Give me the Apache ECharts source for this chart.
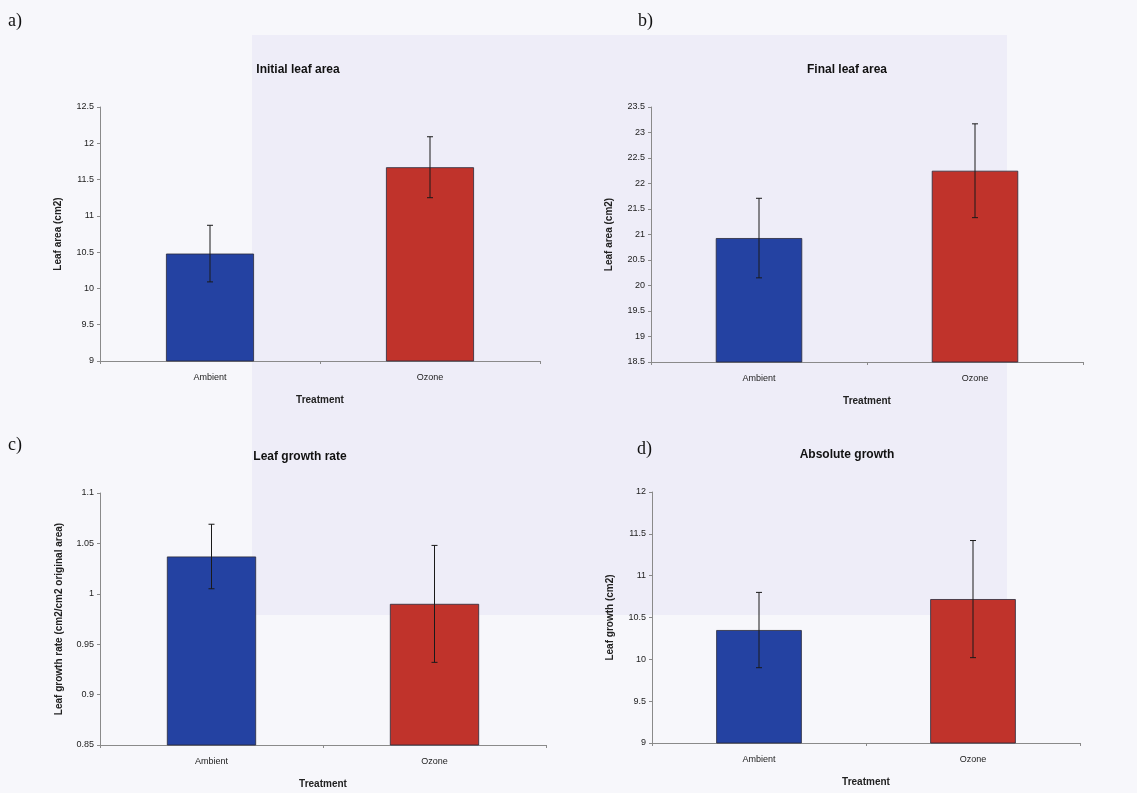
<!DOCTYPE html>
<html>
<head>
<meta charset="utf-8">
<script src="https://cdn.jsdelivr.net/npm/echarts@6/dist/echarts.min.js"></script>
<style>
html,body{margin:0;padding:0;background:#f7f7fb;}
#chart{width:1137px;height:793px;}
</style>
</head>
<body>
<div id="chart"></div>
<script>
// ---- data ----
const categories = ['Ambient', 'Ozone'];
const initialArea = [10.48, 11.67];
const initialErr = [0.39, 0.42];
const finalArea = [20.93, 22.25];
const finalErr = [0.78, 0.92];
const growthRate = [1.037, 0.990];
const growthRateErr = [0.032, 0.058];
const absGrowth = [10.35, 10.72];
const absGrowthErr = [0.45, 0.70];

const panelTitles = ['Initial leaf area', 'Final leaf area', 'Leaf growth rate', 'Absolute growth'];
const yNames = ['Leaf area (cm2)', 'Leaf area (cm2)', 'Leaf growth rate (cm2/cm2 original area)', 'Leaf growth (cm2)'];
const yMin = [9, 18.5, 0.85, 9];
const yMax = [12.5, 23.5, 1.1, 12];
const yStep = [0.5, 0.5, 0.05, 0.5];
const panelLetters = ['a)', 'b)', 'c)', 'd)'];

const values = [initialArea, finalArea, growthRate, absGrowth];
const errors = [initialErr, finalErr, growthRateErr, absGrowthErr];
const barColors = ['#2442a2', '#c0332b'];

const FONT = '"Liberation Sans", Arial, sans-serif';

const grids = [
  {left: 100, top: 107, width: 440, height: 254},
  {left: 651, top: 107, width: 432, height: 255},
  {left: 100, top: 493, width: 446, height: 252},
  {left: 652, top: 492, width: 428, height: 251}
];
const titlePos = [[293, 59], [842, 59], [295, 446], [842, 444]];
const letterPos = [[8, 12], [638, 12], [8, 436], [637, 440]];

const xAxes = [], yAxes = [], series = [], titles = [], graphics = [];

graphics.push({type: 'rect', z: -10, shape: {x: 252, y: 35, width: 755, height: 580},
  style: {fill: '#eeedf8'}, silent: true});

for (let i = 0; i < 4; i++) {
  xAxes.push({
    type: 'category', gridIndex: i, data: categories,
    name: 'Treatment', nameLocation: 'middle', nameGap: 34,
    nameTextStyle: {fontFamily: FONT, fontSize: 10, fontWeight: 'bold', color: '#222'},
    axisLine: {lineStyle: {color: '#8a8a8a', width: 1}},
    axisTick: {show: true, length: 3, lineStyle: {color: '#8a8a8a'}},
    axisLabel: {fontFamily: FONT, fontSize: 9, color: '#222', margin: 12}
  });
  yAxes.push({
    type: 'value', gridIndex: i, min: yMin[i], max: yMax[i], interval: yStep[i],
    name: yNames[i], nameLocation: 'middle', nameRotate: 90, nameGap: i === 2 ? 36 : 37,
    nameTextStyle: {fontFamily: FONT, fontSize: 10, fontWeight: 'bold', color: '#222'},
    axisLine: {show: true, lineStyle: {color: '#8a8a8a', width: 1}},
    axisTick: {show: true, length: 3, lineStyle: {color: '#8a8a8a'}},
    axisLabel: {fontFamily: FONT, fontSize: 9, color: '#222', margin: 6,
      formatter: v => String(Math.round(v * 1000) / 1000)},
    splitLine: {show: false}
  });
  series.push({
    type: 'bar', xAxisIndex: i, yAxisIndex: i, barWidth: '40%',
    data: values[i].map((v, k) => ({value: v, itemStyle: {color: barColors[k]}})),
    itemStyle: {borderColor: '#2a2a3a', borderWidth: 0.8},
    silent: true, animation: false
  });
  const errData = values[i].map((v, k) => [k, v - errors[i][k], v + errors[i][k]]);
  series.push({
    type: 'custom', xAxisIndex: i, yAxisIndex: i, z: 5, silent: true, animation: false,
    data: errData,
    renderItem: function (params, api) {
      const x = api.value(0);
      const lo = api.coord([x, api.value(1)]);
      const hi = api.coord([x, api.value(2)]);
      const cap = 3;
      const st = {stroke: '#1a1a1a', lineWidth: 1};
      return {type: 'group', children: [
        {type: 'line', shape: {x1: lo[0], y1: lo[1], x2: hi[0], y2: hi[1]}, style: st},
        {type: 'line', shape: {x1: hi[0] - cap, y1: hi[1], x2: hi[0] + cap, y2: hi[1]}, style: st},
        {type: 'line', shape: {x1: lo[0] - cap, y1: lo[1], x2: lo[0] + cap, y2: lo[1]}, style: st}
      ]};
    }
  });
  titles.push({
    text: panelTitles[i], left: titlePos[i][0], top: titlePos[i][1], textAlign: 'center',
    textStyle: {fontFamily: FONT, fontSize: 12, fontWeight: 'bold', color: '#111'}
  });
  graphics.push({type: 'text', left: letterPos[i][0], top: letterPos[i][1],
    style: {text: panelLetters[i], font: '18px "Liberation Serif", "DejaVu Serif", serif', fill: '#111'}});
}

const chart = echarts.init(document.getElementById('chart'), null, {renderer: 'canvas'});
chart.setOption({
  backgroundColor: '#f7f7fb',
  animation: false,
  title: titles,
  grid: grids,
  xAxis: xAxes,
  yAxis: yAxes,
  series: series,
  graphic: graphics
});
</script>
</body>
</html>
